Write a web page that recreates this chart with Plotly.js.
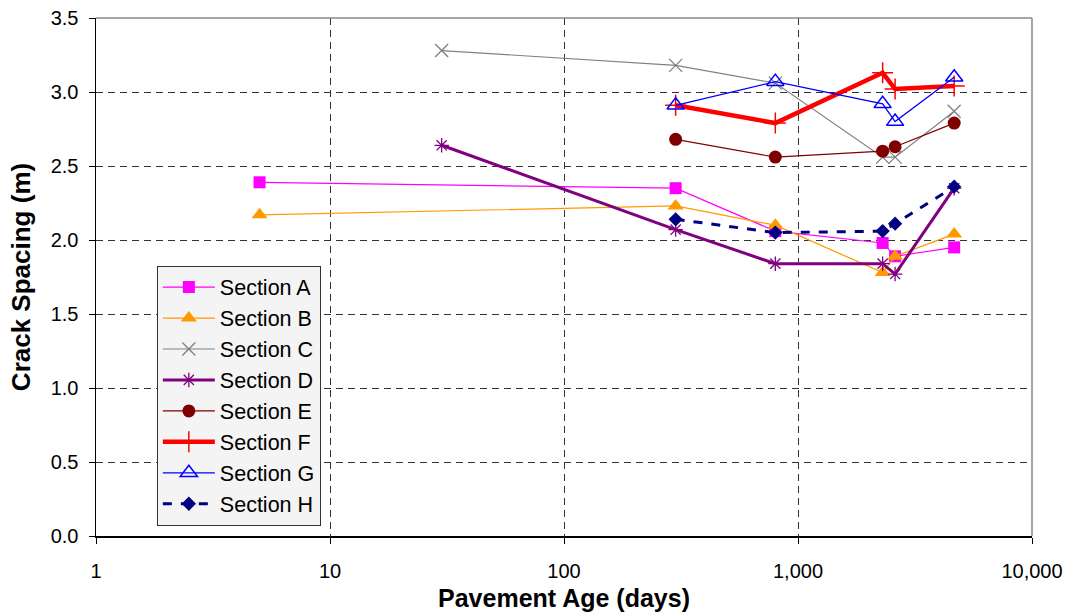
<!DOCTYPE html>
<html>
<head>
<meta charset="utf-8">
<script src="https://cdn.plot.ly/plotly-3.0.1.min.js"></script>
<style>html,body{margin:0;padding:0;background:#fff;}#chart{width:1069px;height:615px;}</style>
</head>
<body>
<div id="chart"></div>
<script>
// Data
const ageA = [5, 300, 800, 2300, 2600, 4650];
const spacingA = [2.39, 2.35, 2.06, 1.98, 1.89, 1.95];
const ageB = [5, 300, 800, 2300, 2600, 4650];
const spacingB = [2.17, 2.23, 2.10, 1.78, 1.89, 2.04];
const ageC = [30, 300, 800, 2300, 2600, 4650];
const spacingC = [3.28, 3.18, 3.06, 2.56, 2.56, 2.87];
const ageD = [30, 300, 800, 2300, 2600, 4650];
const spacingD = [2.64, 2.07, 1.84, 1.84, 1.77, 2.35];
const ageE = [300, 800, 2300, 2600, 4650];
const spacingE = [2.68, 2.56, 2.60, 2.63, 2.79];
const ageF = [300, 800, 2300, 2600, 4650];
const spacingF = [2.91, 2.79, 3.13, 3.02, 3.04];
const ageG = [300, 800, 2300, 2600, 4650];
const spacingG = [2.91, 3.07, 2.92, 2.80, 3.10];
const ageH = [300, 800, 2300, 2600, 4650];
const spacingH = [2.14, 2.05, 2.06, 2.11, 2.36];
const seriesNames = ["Section A","Section B","Section C","Section D","Section E","Section F","Section G","Section H"];
const xTickVals = [1, 10, 100, 1000, 10000];
const xTickText = ["1", "10", "100", "1,000", "10,000"];
const yTickVals = [0, 0.5, 1.0, 1.5, 2.0, 2.5, 3.0, 3.5];
const yTickText = ["0.0","0.5","1.0","1.5","2.0","2.5","3.0","3.5"];

const xs = [ageA, ageB, ageC, ageD, ageE, ageF, ageG, ageH];
const ys = [spacingA, spacingB, spacingC, spacingD, spacingE, spacingF, spacingG, spacingH];
const styles = [
  {color:'#ff00ff', width:1.2, dash:'solid', symbol:'square', size:12, mline:0},
  {color:'#ff9900', width:1.2, dash:'solid', symbol:'triangle-up', size:14, mline:0},
  {color:'#808080', width:1.2, dash:'solid', symbol:'x-thin-open', size:13, mline:1.3},
  {color:'#800080', width:3, dash:'solid', symbol:'asterisk-open', size:12, mline:1.3},
  {color:'#800000', width:1.2, dash:'solid', symbol:'circle', size:13, mline:0},
  {color:'#ff0000', width:4.5, dash:'solid', symbol:'cross-thin-open', size:15, mline:1.5},
  {color:'#0000ff', width:1.3, dash:'solid', symbol:'triangle-up-open', size:15, mline:1.5},
  {color:'#000080', width:3, dash:'dash', symbol:'diamond', size:11, mline:0}
];
const traces = seriesNames.map((n, i) => ({
  type:'scatter', mode:'lines+markers', name:n, legendgroup:'g'+i,
  x: xs[i], y: ys[i],
  line:{color:styles[i].color, width:styles[i].width, dash:styles[i].dash},
  marker:{color:styles[i].color, symbol:styles[i].symbol, size:styles[i].size,
          line:{color:styles[i].color, width:styles[i].mline}}
}));

const layout = {
  width:1069, height:615,
  margin:{l:96, r:37, t:18, b:79},
  paper_bgcolor:'#ffffff', plot_bgcolor:'#ffffff',
  font:{family:'Liberation Sans, Arial, sans-serif', color:'#000', size:20},
  showlegend:true,
  legend:{x:0.065, y:0.522, xanchor:'left', yanchor:'top', bgcolor:'#f4f4f4',
          bordercolor:'#333', borderwidth:1, font:{size:21.5, color:'#000'},
          traceorder:'grouped', tracegroupgap:0, itemwidth:52},
  xaxis:{type:'log', range:[0, 4], tickvals:xTickVals, ticktext:xTickText,
         showgrid:true, gridcolor:'#333', griddash:'7px,5px', gridwidth:1,
         showline:true, linecolor:'#000', linewidth:1.5, mirror:false,
         ticks:'outside', ticklen:6, tickcolor:'#000', zeroline:false,
         tickfont:{size:20}, ticklabelstandoff:10,
         title:{text:'<b>Pavement Age (days)</b>', font:{size:25}, standoff:9}},
  yaxis:{range:[0, 3.5], tickvals:yTickVals, ticktext:yTickText,
         showgrid:true, gridcolor:'#333', griddash:'7px,5px', gridwidth:1,
         showline:true, linecolor:'#000', linewidth:1.5,
         ticks:'outside', ticklen:6, tickcolor:'#000', zeroline:false,
         tickfont:{size:20}, ticklabelstandoff:6,
         title:{text:'<b>Crack Spacing (m)</b>', font:{size:26}, standoff:12}},
  shapes:[
    {type:'line', xref:'paper', yref:'paper', x0:0, x1:1, y0:1, y1:1, line:{color:'#888', width:1.5}},
    {type:'line', xref:'paper', yref:'paper', x0:1, x1:1, y0:0, y1:1, line:{color:'#888', width:1.5}}
  ]
};
Plotly.newPlot('chart', traces, layout, {displayModeBar:false, staticPlot:true});
</script>
</body>
</html>
